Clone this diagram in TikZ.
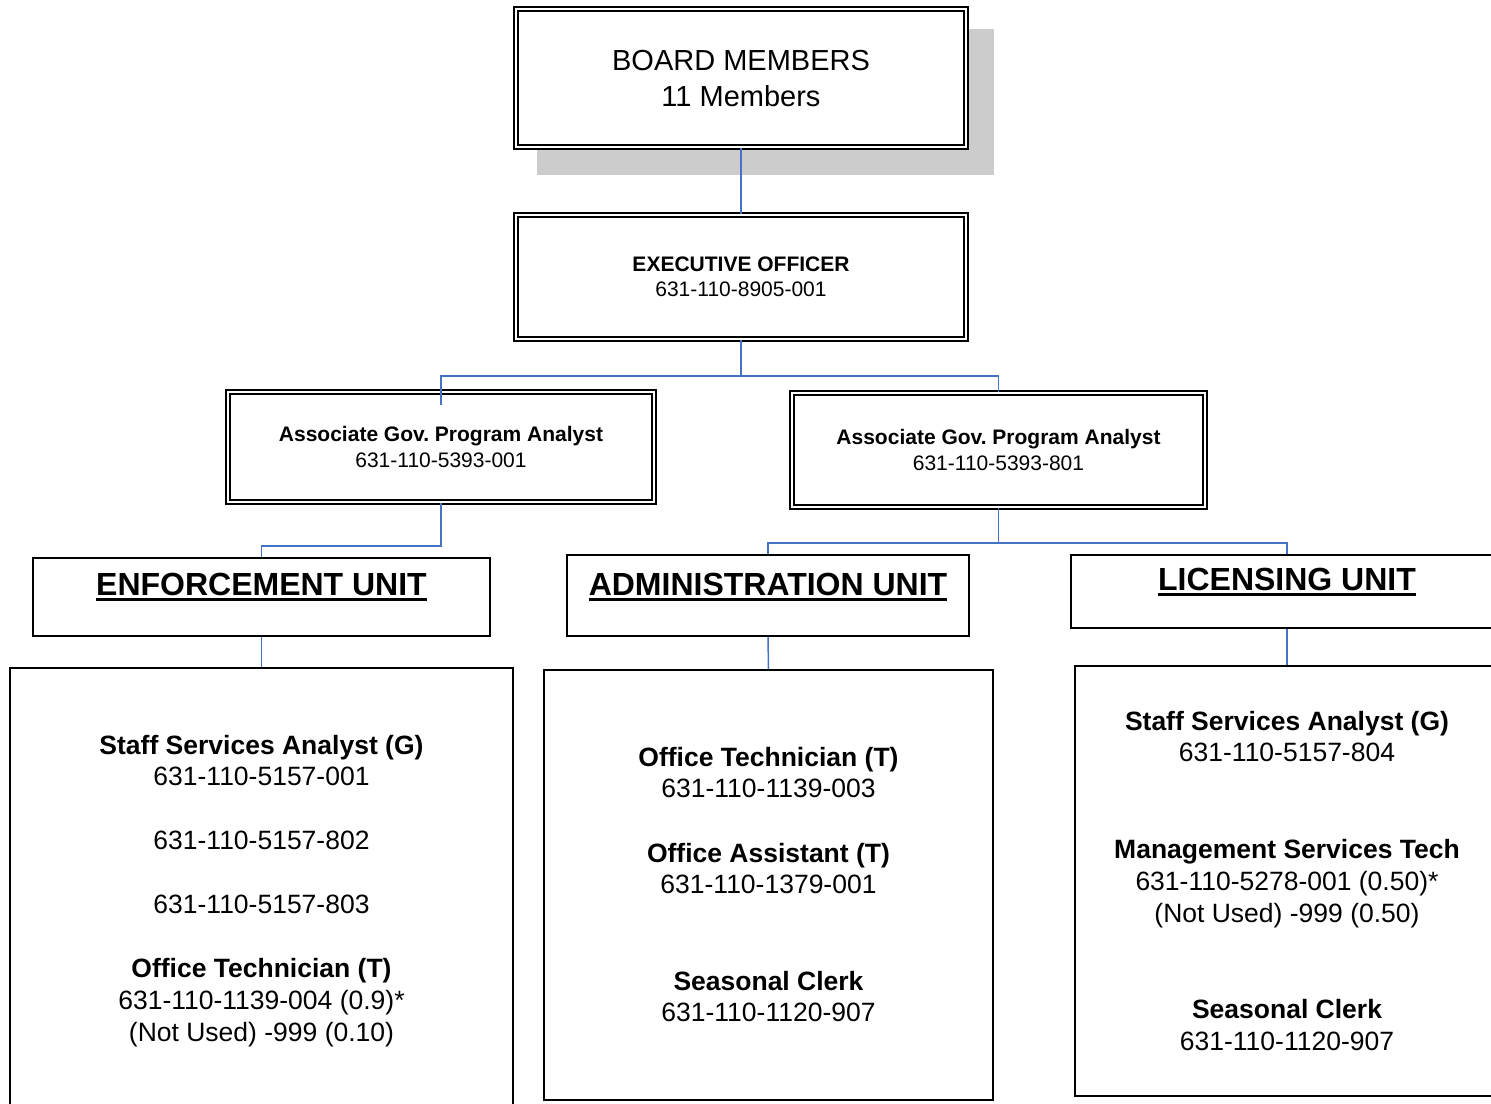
\documentclass[tikz,border=0pt]{standalone}
\usepackage{fontspec}
\setmainfont{Liberation Sans}
\frenchspacing
\definecolor{linkblue}{HTML}{4472C4}
\definecolor{shadowgray}{HTML}{CCCCCC}
\newsavebox\ulbox
\newcommand\ulbar[1]{\sbox\ulbox{#1}\rlap{\usebox\ulbox}\rule[-5.3pt]{\wd\ulbox}{2.6pt}}
\begin{document}
\begin{tikzpicture}[x=1pt,y=-1pt,
  dblbox/.style={draw, double, double distance=2.8pt, line width=1.8pt, fill=white, inner sep=0pt},
  unitbox/.style={draw, line width=1.6pt, fill=white, inner sep=0pt},
  link/.style={draw=linkblue, line width=1.5pt},
  ln/.style={anchor=base, inner sep=0pt},
  big/.style={ln, font=\fontsize{29pt}{36pt}\selectfont},
  mid/.style={ln, font=\fontsize{21pt}{25pt}\selectfont},
  midb/.style={ln, font=\fontsize{21pt}{25pt}\selectfont\bfseries},
  head/.style={ln, font=\fontsize{32pt}{38pt}\selectfont\bfseries},
  sm/.style={ln, font=\fontsize{26.5pt}{32pt}\selectfont},
  smb/.style={ln, font=\fontsize{26.5pt}{32pt}\selectfont\bfseries}]
\clip (0,0) rectangle (1491,1103);
\fill[white] (0,0) rectangle (1491,1103);

% board with its drop shadow
\fill[shadowgray] (537,29) rectangle (994,175);
\node[dblbox, minimum width=450pt, minimum height=138pt] (board) at (741,78) {};
\node[big] (boardT) at (741,70) {BOARD MEMBERS};
\node[big] (boardN) at (741,106) {11 Members};

% executive officer
\node[dblbox, minimum width=450pt, minimum height=124pt] (exec) at (741,277) {};
\node[midb] (execT) at (741,271) {EXECUTIVE OFFICER};
\node[mid] (execN) at (741,296.5) {631-110-8905-001};

% program analysts
\node[dblbox, minimum width=426pt, minimum height=110pt] (apa1) at (441,447) {};
\node[midb] (apa1T) at (441,441) {Associate Gov. Program Analyst};
\node[mid] (apa1N) at (441,467) {631-110-5393-001};

\node[dblbox, minimum width=413pt, minimum height=114pt] (apa2) at (998.5,450) {};
\node[midb] (apa2T) at (998.5,444) {Associate Gov. Program Analyst};
\node[mid] (apa2N) at (998.5,470) {631-110-5393-801};

% unit headings
\node[unitbox, minimum width=457pt, minimum height=78pt] (enf) at (261.5,597) {};
\node[head] (enfT) at (261.5,595.7) {\ulbar{ENFORCEMENT UNIT}};
\node[unitbox, minimum width=402pt, minimum height=81pt] (adm) at (768,595.5) {};
\node[head] (admT) at (768,595.7) {\ulbar{ADMINISTRATION UNIT}};
\node[unitbox, minimum width=432pt, minimum height=73pt] (lic) at (1287,591.5) {};
\node[head] (licT) at (1287,590.7) {\ulbar{LICENSING UNIT}};

% staff boxes
\node[unitbox, minimum width=503pt, minimum height=452pt] (enfS) at (261.5,894) {};
\node[smb] at (261.5,754.5) {Staff Services Analyst (G)};
\node[sm]  at (261.5,785.5) {631-110-5157-001};
\node[sm]  at (261.5,849.5) {631-110-5157-802};
\node[sm]  at (261.5,913.5) {631-110-5157-803};
\node[smb] at (261.5,977.5) {Office Technician (T)};
\node[sm]  at (261.5,1009.5) {631-110-1139-004 (0.9)*};
\node[sm]  at (261.5,1041.5) {(Not Used) -999 (0.10)};

\node[unitbox, minimum width=449pt, minimum height=430pt] (admS) at (768.5,885) {};
\node[smb] at (768.5,766.5) {Office Technician (T)};
\node[sm]  at (768.5,797.5) {631-110-1139-003};
\node[smb] at (768.5,862.5) {Office Assistant (T)};
\node[sm]  at (768.5,893.5) {631-110-1379-001};
\node[smb] at (768.5,990.5) {Seasonal Clerk};
\node[sm]  at (768.5,1021.5) {631-110-1120-907};

\node[unitbox, minimum width=424pt, minimum height=430pt] (licS) at (1287,881) {};
\node[smb] at (1287,730.5) {Staff Services Analyst (G)};
\node[sm]  at (1287,761.5) {631-110-5157-804};
\node[smb] at (1287,858.5) {Management Services Tech};
\node[sm]  at (1287,890.5) {631-110-5278-001 (0.50)*};
\node[sm]  at (1287,922.5) {(Not Used) -999 (0.50)};
\node[smb] at (1287,1018.5) {Seasonal Clerk};
\node[sm]  at (1287,1050.5) {631-110-1120-907};

% reporting lines
\coordinate (busA) at (741,376);
\coordinate (apa1dip) at (441,405);
\coordinate (busB) at (441,546);
\coordinate (busC) at (998.5,543);
\draw[link] (board.south) -- (exec.north);
\draw[link] (exec.south) -- (busA);
\draw[link] (apa1dip) |- (busA) -| (apa2.north);
\draw[link] (apa1.south) -- (busB) -| (enf.north);
\draw[link] (apa2.south) -- (busC);
\draw[link] (adm.north) |- (busC) -| (lic.north);
\draw[link] (enf.south) -- (enfS.north);
\draw[link] (adm.south) -- (admS.north);
\draw[link] (lic.south) -- (licS.north);
\end{tikzpicture}
\end{document}
